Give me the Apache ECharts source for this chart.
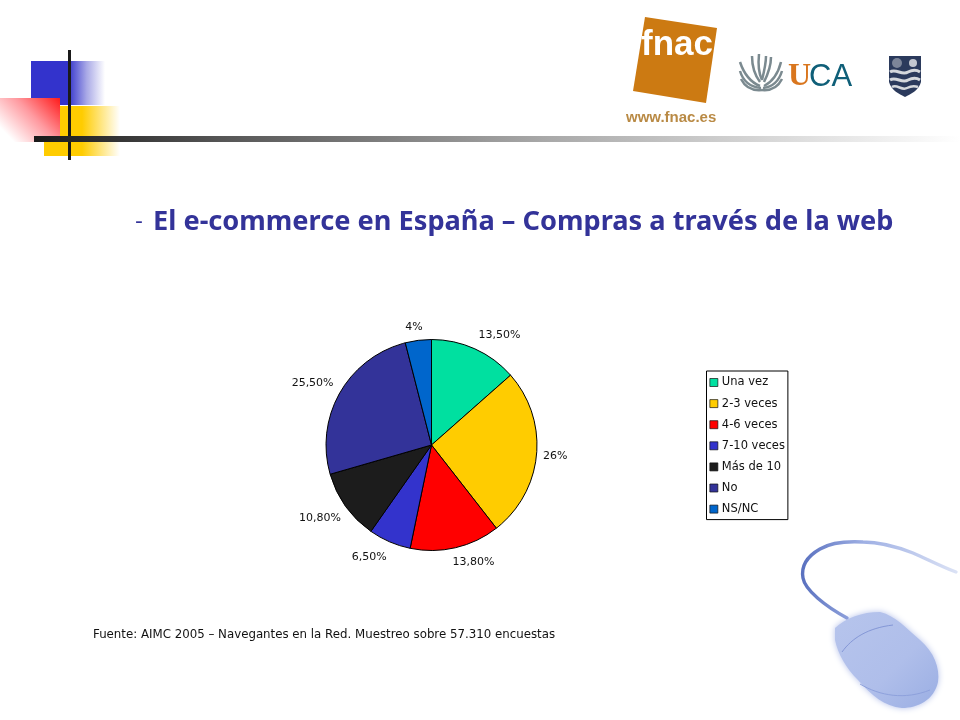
<!DOCTYPE html>
<html><head><meta charset="utf-8">
<style>html,body{margin:0;padding:0;background:#fff}#c{width:960px;height:720px}</style>
<script src="https://cdn.jsdelivr.net/npm/echarts@6/dist/echarts.min.js"></script>
</head><body><div id="c"></div>
<script>
const categories = ['Una vez','2-3 veces','4-6 veces','7-10 veces','Más de 10','No','NS/NC'];
const values = [13.5,26,13.8,6.5,10.8,25.5,4];
const valueLabels = ['13,50%','26%','13,80%','6,50%','10,80%','25,50%','4%'];
const colors = ['#00e0a0','#ffcc00','#ff0000','#3333cc','#1c1c1c','#333399','#0066cc'];
const titleText = 'El e-commerce en España – Compras a través de la web';
const sourceText = 'Fuente: AIMC 2005 – Navegantes en la Red. Muestreo sobre 57.310 encuestas';

const grad = (x,y,x2,y2,stops) => ({type:'linear',x,y,x2,y2,global:true,colorStops:stops.map(s=>({offset:s[0],color:s[1]}))});
const rect = (x,y,w,h,fill,z) => ({type:'rect',shape:{x,y,width:w,height:h},style:{fill},z:z||1,silent:true});
let pathCount = 0;
const path = (d,style,z) => {
  const name = 'decoPath' + (pathCount++);
  echarts.graphic.registerShape(name, echarts.graphic.extendPath(d));
  return {type:name,style,z:z||1,silent:true};
};
const txt = (x,y,text,font,fill) => ({type:'text',x,y,style:{text,font,fill,align:'left',verticalAlign:'middle'},z:5,silent:true});

const wheat = [];
for (const d of [
 'M760 86 C750 82 744 74 740 62','M761 88 C750 87 743 81 740 71','M762 90 C752 91 745 87 741 79',
 'M760 82 C754 74 752 66 752 56','M762 80 C758 72 758 64 759 54',
 'M762 90 C772 91 778 87 782 79','M763 88 C772 87 779 81 782 71','M764 86 C772 82 778 74 781 62',
 'M764 82 C768 74 771 66 771 57','M762 80 C764 72 766 64 766 56'])
  wheat.push(path(d,{fill:'none',stroke:'#7b8a90',lineWidth:2.5}));

const labelNudge = [[-3.5,-9],[-3.5,1],[-9,10],[4,11],[4.5,9],[3,-7],[10,-8]];

const option = {
  animation:false,
  backgroundColor:'#fff',
  color:colors,
  legend:{
    orient:'vertical',left:706.5,top:371,
    data:categories,
    icon:'rect',itemWidth:8,itemHeight:8,itemGap:9.1,
    padding:[5.5,3,4.5,3],
    borderColor:'#000',borderWidth:1,backgroundColor:'#fff',
    textStyle:{fontFamily:'DejaVu Sans',fontSize:11.5,color:'#111',padding:[0,0,0,-1]},
    itemStyle:{borderColor:'#111',borderWidth:0.7},
    selectedMode:false
  },
  series:[{
    type:'pie',
    center:[431.5,445],radius:[0,105.5],
    startAngle:90,clockwise:true,
    data:categories.map((name,i)=>({name,value:values[i],valueLabel:valueLabels[i]})),
    itemStyle:{borderColor:'#000',borderWidth:1},
    emphasis:{disabled:true},
    label:{show:true,position:'outside',alignTo:'none',fontFamily:'DejaVu Sans',fontSize:11,color:'#111',
      formatter:p=>p.data.valueLabel},
    labelLine:{show:false,length:5,length2:0},
    labelLayout:p=>({dx:labelNudge[p.dataIndex][0],dy:labelNudge[p.dataIndex][1]})
  }],
  graphic:[
    rect(31,61,75,44,grad(31,0,105,0,[[0,'#3333cc'],[0.5,'#3333cc'],[0.75,'#a8a8e6'],[1,'#ffffff']])),
    rect(44,106,76,50,grad(44,0,120,0,[[0,'#ffcc00'],[0.5,'#ffcc00'],[1,'#ffffff']])),
    rect(0,98,60,44,grad(60,98,14,142,[[0,'#ff1a1a'],[0.5,'#ff9aa0'],[1,'#ffffff']]),2),
    rect(68,50,3,110,'#1a1a1a',3),
    rect(34,136,926,6,grad(34,0,960,0,[[0,'#1a1a1a'],[0.2,'#555555'],[0.55,'#a8a8a8'],[1,'#ffffff']]),3),

    {type:'polygon',shape:{points:[[645,17],[717,28],[706,103],[633,91]]},style:{fill:'#cc7a12'},silent:true},
    txt(641,45,'fnac','bold 35px "Liberation Sans"','#fff'),
    txt(626,118,'www.fnac.es','bold 15px "Liberation Sans"','#b98a45'),
    ...wheat,
    txt(788,77,'U','bold 32px "Liberation Serif"','#d9761e'),
    txt(809,77,'CA','31px "Liberation Sans"','#0f5f78'),

    path('M889 56 L921 56 L921 82 C919 90 911 94 905 97 C899 94 891 90 889 82 Z',{fill:'#2b3a5c'}),
    path('M890 72 C896 68 902 76 908 72 C912 70 917 70 920 72',{fill:'none',stroke:'#d5d8dc',lineWidth:3},2),
    path('M890 80 C896 76 902 84 908 80 C912 78 917 78 920 80',{fill:'none',stroke:'#d5d8dc',lineWidth:3},2),
    path('M892 87 C897 84 902 91 907 88 C911 86 915 86 918 87',{fill:'none',stroke:'#d5d8dc',lineWidth:2.5},2),
    {type:'circle',shape:{cx:897,cy:63,r:5},style:{fill:'#7c8599'},silent:true,z:2},
    {type:'circle',shape:{cx:913,cy:63,r:4},style:{fill:'#c4c8d0'},silent:true,z:2},

    path('M956 572 C940 566 925 558 913 553 C895 546 880 542 863 542 C845 541 830 543 820 549 C806 557 801 567 803 578 C805 590 825 606 847 618',
      {fill:'none',lineWidth:3.4,lineCap:'round',stroke:grad(803,0,957,0,[[0,'#5b72c0'],[0.4,'#9fb0e4'],[1,'#dbe2f5']])}),
    path('M835 628 C846 618 862 612 880 612 C896 616 906 628 920 640 C934 652 940 668 938 682 C934 700 918 708 902 708 C884 706 872 696 858 680 C846 668 838 654 835 640 Z',
      {fill:grad(840,615,930,705,[[0,'#b6c4ec'],[0.6,'#afbeea'],[1,'#9db0e4']]),shadowBlur:6,shadowColor:'rgba(130,150,220,0.6)'}),
    path('M842 652 C852 638 868 628 893 625',{fill:'none',stroke:'#8497d6',lineWidth:1},2),
    path('M860 684 C880 696 905 700 930 690',{fill:'none',stroke:'#8ea1dc',lineWidth:1},2),

    txt(135,222,'-','22px "DejaVu Sans"','#333399'),
    txt(153,222,titleText,'bold 27.2px "Noto Sans"','#333399'),
    txt(93,634.5,sourceText,'11.8px "DejaVu Sans"','#111')
  ]
};
const chart = echarts.init(document.getElementById('c'),null,{renderer:'canvas'});
chart.setOption(option);
</script></body></html>
